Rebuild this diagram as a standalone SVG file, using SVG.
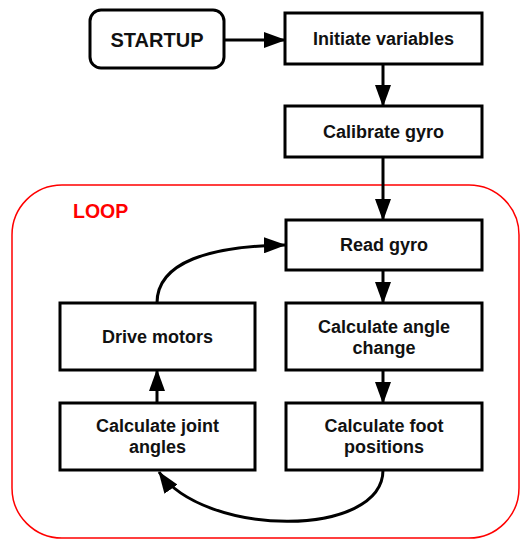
<svg xmlns="http://www.w3.org/2000/svg" width="520" height="540" viewBox="0 0 520 540">
  <style>
    .box { fill: #ffffff; stroke: #000000; stroke-width: 3; }
    .lbl { font-family: "Liberation Sans", Arial, sans-serif; font-weight: bold; font-size: 18px; fill: #111111; text-anchor: middle; }
    .big { font-size: 20px; }
    .edge { fill: none; stroke: #000000; stroke-width: 3; }
  </style>
  <defs>
    <marker id="head" viewBox="0 0 22 16" refX="21" refY="8" markerWidth="22" markerHeight="16" markerUnits="userSpaceOnUse" orient="auto">
      <path d="M0,0 L22,8 L0,16 Z" fill="#000000"/>
    </marker>
  </defs>
  <rect width="520" height="540" fill="#ffffff"/>

  <!-- loop frame -->
  <g id="loop">
    <rect x="12" y="185" width="507" height="353" rx="50" ry="50" fill="none" stroke="#ff0000" stroke-width="1.5"/>
    <text x="73" y="218" font-family="Liberation Sans, Arial, sans-serif" font-weight="bold" font-size="19.5" fill="#ff0000">LOOP</text>
  </g>

  <!-- connectors -->
  <g id="connectors">
    <line class="edge" x1="224" y1="40" x2="285" y2="40" marker-end="url(#head)"/>
    <line class="edge" x1="383" y1="64" x2="383" y2="106" marker-end="url(#head)"/>
    <line class="edge" x1="383" y1="157" x2="383" y2="220" marker-end="url(#head)"/>
    <line class="edge" x1="383" y1="270" x2="383" y2="303" marker-end="url(#head)"/>
    <line class="edge" x1="383" y1="370" x2="383" y2="403" marker-end="url(#head)"/>
    <line class="edge" x1="157" y1="403" x2="157" y2="370" marker-end="url(#head)"/>
    <path class="edge" d="M157,303 C157,262 210,246 285,245" marker-end="url(#head)"/>
    <path class="edge" d="M383,470 C383,538 205,538 159,472" marker-end="url(#head)"/>
  </g>

  <g id="startup">
    <rect class="box" x="90" y="10" width="134" height="58" rx="11" ry="11"/>
    <text class="lbl big" x="157" y="46.5">STARTUP</text>
  </g>
  <g id="initiate">
    <rect class="box" x="285" y="13" width="197" height="51"/>
    <text class="lbl" x="383.5" y="45">Initiate variables</text>
  </g>
  <g id="calibrate">
    <rect class="box" x="285" y="106" width="197" height="51"/>
    <text class="lbl" x="383.5" y="138">Calibrate gyro</text>
  </g>
  <g id="readgyro">
    <rect class="box" x="286" y="220" width="196" height="50"/>
    <text class="lbl" x="384" y="251">Read gyro</text>
  </g>
  <g id="anglechange">
    <rect class="box" x="286" y="303" width="196" height="67"/>
    <text class="lbl" x="384" y="333">Calculate angle</text>
    <text class="lbl" x="384" y="354">change</text>
  </g>
  <g id="footpositions">
    <rect class="box" x="286" y="403" width="196" height="67"/>
    <text class="lbl" x="384" y="432">Calculate foot</text>
    <text class="lbl" x="384" y="453">positions</text>
  </g>
  <g id="drivemotors">
    <rect class="box" x="60" y="303" width="195" height="67"/>
    <text class="lbl" x="157.5" y="342.5">Drive motors</text>
  </g>
  <g id="jointangles">
    <rect class="box" x="60" y="403" width="195" height="67"/>
    <text class="lbl" x="157.5" y="432">Calculate joint</text>
    <text class="lbl" x="157.5" y="453">angles</text>
  </g>
</svg>
